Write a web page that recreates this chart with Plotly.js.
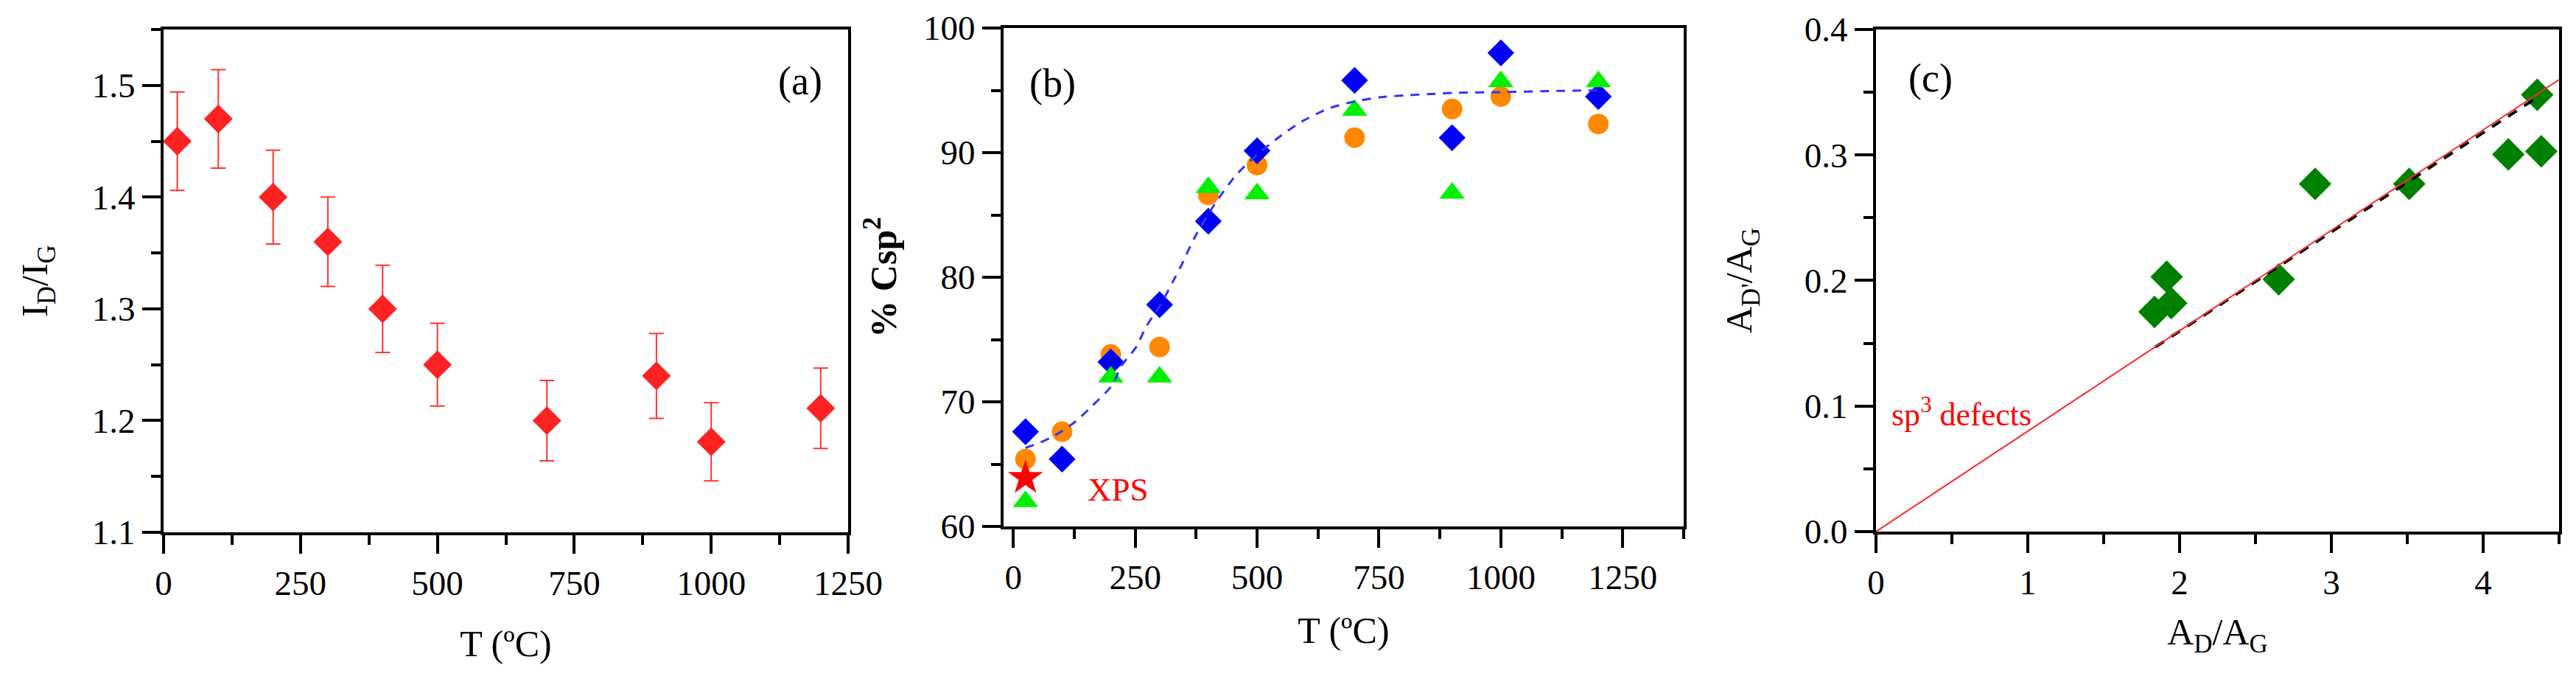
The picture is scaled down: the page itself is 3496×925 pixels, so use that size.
<!DOCTYPE html>
<html>
<head>
<meta charset="utf-8">
<script src="https://cdn.plot.ly/plotly-3.0.1.min.js"></script>
<style>html,body{margin:0;padding:0;background:#fff;}#chart{width:3496px;height:925px;}</style>
</head>
<body>
<div id="chart"></div>
<script>
// ---- Panel (a): I_D/I_G vs T ----
var aT = [25, 100, 200, 300, 400, 500, 700, 900, 1000, 1200];
var aRatio = [1.450, 1.470, 1.400, 1.360, 1.300, 1.250, 1.200, 1.240, 1.181, 1.211];
var aErr = [0.044, 0.044, 0.042, 0.040, 0.039, 0.037, 0.036, 0.038, 0.035, 0.036];

// ---- Panel (b): % Csp2 vs T ----
var bT = [25, 100, 200, 300, 400, 500, 700, 900, 1000, 1200];
var bBlue = [67.6, 65.4, 73.2, 77.8, 84.5, 90.15, 95.8, 91.2, 98.0, 94.5];
var bOrange = [65.4, 67.6, 73.8, 74.4, 86.6, 89.0, 91.2, 93.5, 94.5, 92.3];
var bGreenT = [25, 200, 300, 400, 500, 700, 900, 1000, 1200];
var bGreen = [62.0, 72.0, 72.0, 87.2, 86.7, 93.4, 86.75, 95.7, 95.7];
var xpsT = [25];
var xpsVal = [63.9];
var fitT = [25, 76, 127, 157, 202, 222, 252, 272, 302, 328, 344, 372, 412, 457, 502, 547, 592, 651, 700, 753, 805, 854, 906, 999, 1115, 1200];
var fitVal = [66.3, 67.1, 68.4, 69.5, 71.3, 72.9, 74.4, 76.0, 77.8, 79.7, 80.9, 83.2, 85.8, 88.2, 89.9, 91.3, 92.5, 93.6, 94.1, 94.45, 94.6, 94.7, 94.8, 94.85, 94.95, 95.0];

// ---- Panel (c): A_D'/A_G vs A_D/A_G ----
var cAD = [1.835, 1.915, 1.945, 2.653, 2.893, 3.513, 4.166, 4.356, 4.383];
var cADp = [0.175, 0.203, 0.182, 0.201, 0.277, 0.277, 0.3005, 0.348, 0.303];
var sp3X = [0, 4.5];
var sp3Y = [0, 0.36];
var linFitX = [1.84, 4.37];
var linFitY = [0.147, 0.347];

var FONT = '"Liberation Serif", serif';

var traces = [
  {x: aT, y: aRatio, xaxis: 'x', yaxis: 'y', type: 'scatter', mode: 'markers',
   marker: {symbol: 'diamond', size: 30, color: '#FF2222'},
   error_y: {type: 'data', array: aErr, visible: true, color: '#FF3333', thickness: 2, width: 10}},

  {x: bT, y: bOrange, xaxis: 'x2', yaxis: 'y2', type: 'scatter', mode: 'markers',
   marker: {symbol: 'circle', size: 28, color: '#FF8800'}},
  {x: bT, y: bBlue, xaxis: 'x2', yaxis: 'y2', type: 'scatter', mode: 'markers',
   marker: {symbol: 'diamond', size: 28, color: '#0000F5'}},
  {x: bGreenT, y: bGreen, xaxis: 'x2', yaxis: 'y2', type: 'scatter', mode: 'markers',
   marker: {symbol: 'triangle-up', size: 30, color: '#00F000'}},
  {x: xpsT, y: xpsVal, xaxis: 'x2', yaxis: 'y2', type: 'scatter', mode: 'markers',
   marker: {symbol: 'star', size: 36, color: '#FF0000'}},
  {x: fitT, y: fitVal, xaxis: 'x2', yaxis: 'y2', type: 'scatter', mode: 'lines',
   line: {color: '#3333FF', width: 3, dash: '12px,10px', shape: 'spline', smoothing: 0.8}},

  {x: cAD, y: cADp, xaxis: 'x3', yaxis: 'y3', type: 'scatter', mode: 'markers',
   marker: {symbol: 'diamond', size: 34, color: '#008000'}},
  {x: linFitX, y: linFitY, xaxis: 'x3', yaxis: 'y3', type: 'scatter', mode: 'lines',
   line: {color: '#000000', width: 4, dash: '14px,12px'}},
  {x: sp3X, y: sp3Y, xaxis: 'x3', yaxis: 'y3', type: 'scatter', mode: 'lines',
   line: {color: '#FF2A2A', width: 2}}
];

function minorTicks(d) {
  return {ticks: 'outside', ticklen: 13, tickwidth: 4, tickcolor: '#000', dtick: d, showgrid: false};
}

function axisBase(extra) {
  var base = {
    showline: true, linecolor: '#000', linewidth: 4, mirror: true,
    ticks: 'outside', ticklen: 25, tickwidth: 4, tickcolor: '#000',
    showgrid: false, zeroline: false, fixedrange: true,
    tickfont: {family: FONT, size: 47, color: '#000'}
  };
  for (var k in extra) base[k] = extra[k];
  return base;
}

var titleFont = {family: FONT, size: 50, color: '#000'};

var layout = {
  width: 3496, height: 925,
  margin: {l: 222, r: 23, t: 38, b: 203},
  paper_bgcolor: '#fff', plot_bgcolor: '#fff',
  showlegend: false,
  xaxis: axisBase({domain: [0, 0.28576], anchor: 'y', range: [0, 1250], tick0: 0, dtick: 250,
    minor: minorTicks(125),
    title: {text: 'T (ºC)', font: titleFont, standoff: 40}}),
  yaxis: axisBase({domain: [0, 0.99708], anchor: 'x', range: [1.1, 1.55], tick0: 1.1, dtick: 0.1, tickformat: '.1f',
    minor: minorTicks(0.05),
    title: {text: 'I<sub>D</sub>/I<sub>G</sub>', font: titleFont, standoff: 45}}),

  xaxis2: axisBase({domain: [0.35066, 0.63457], anchor: 'y2', range: [-20, 1375], tick0: 0, dtick: 250,
    minor: minorTicks(125),
    title: {text: 'T (ºC)', font: titleFont, standoff: 30}}),
  yaxis2: axisBase({domain: [0.0117, 1], anchor: 'x2', range: [60, 100], tick0: 60, dtick: 10,
    minor: minorTicks(5),
    title: {text: '<b>% Csp<sup>2</sup></b>', font: titleFont, standoff: 22}}),

  xaxis3: axisBase({domain: [0.71486, 1], anchor: 'y3', range: [0, 4.5], tick0: 0, dtick: 1,
    minor: minorTicks(0.5),
    title: {text: 'A<sub>D</sub>/A<sub>G</sub>', font: titleFont, standoff: 25}}),
  yaxis3: axisBase({domain: [0.00146, 0.99708], anchor: 'x3', range: [0, 0.4], tick0: 0, dtick: 0.1, tickformat: '.1f',
    minor: minorTicks(0.05),
    title: {text: "A<sub>D'</sub>/A<sub>G</sub>", font: titleFont, standoff: 56}}),

  annotations: [
    {xref: 'x', yref: 'y', x: 1162, y: 1.504, text: '(a)', showarrow: false,
     font: {family: FONT, size: 54, color: '#000'}},
    {xref: 'x2', yref: 'y2', x: 80, y: 95.56, text: '(b)', showarrow: false,
     font: {family: FONT, size: 54, color: '#000'}},
    {xref: 'x2', yref: 'y2', x: 215, y: 62.96, text: 'XPS', showarrow: false,
     font: {family: FONT, size: 45, color: '#FF0000'}},
    {xref: 'x3', yref: 'y3', x: 0.36, y: 0.361, text: '(c)', showarrow: false,
     font: {family: FONT, size: 54, color: '#000'}},
    {xref: 'x3', yref: 'y3', x: 0.09, y: 0.0946, xanchor: 'left', text: 'sp<sup>3</sup> defects', showarrow: false,
     font: {family: FONT, size: 44, color: '#FF0000'}}
  ]
};

Plotly.newPlot('chart', traces, layout, {displayModeBar: false});
</script>
</body>
</html>
